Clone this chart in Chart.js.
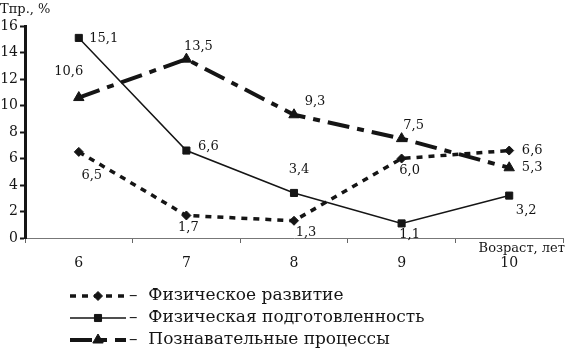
<!DOCTYPE html>
<html>
<head>
<meta charset="utf-8">
<script src="https://cdn.jsdelivr.net/npm/chart.js@4/dist/chart.umd.min.js"></script>
<style>
  html, body { margin: 0; padding: 0; background: #fff; }
  canvas { display: block; }
</style>
</head>
<body>
<canvas id="chart" width="570" height="358"></canvas>
<script>
// --- DATA ---
const ages = ['6', '7', '8', '9', '10'];
const physDev = [6.5, 1.7, 1.3, 6.0, 6.6];
const physFit = [15.1, 6.6, 3.4, 1.1, 3.2];
const cognitive = [10.6, 13.5, 9.3, 7.5, 5.3];
const seriesNames = ['Физическое развитие', 'Физическая подготовленность', 'Познавательные процессы'];
const yTitle = 'Тпр., %';
const xTitle = 'Возраст, лет';

// --- STYLE ---
const INK = '#151515';
const SERIF = '"DejaVu Serif", "Liberation Serif", serif';

// label offsets (px) relative to each point, per series
const labelShift = [
    [[13, 24], [2, 12], [12, 12], [8, 12], [23, 0]],
    [[25, 1], [22, -4], [5, -23], [8, 11], [17, 15]],
    [[-10, -26], [12, -13], [21, -13], [12, -13], [23, 0]],
];

const fmt = v => v.toFixed(1).replace('.', ',');

const valueLabels = {
    id: 'valueLabels',
    afterDatasetsDraw(chart) {
        const ctx = chart.ctx;
        ctx.save();
        ctx.font = '13px ' + SERIF;
        ctx.fillStyle = INK;
        ctx.textAlign = 'center';
        ctx.textBaseline = 'middle';
        chart.data.datasets.forEach((ds, i) => {
            chart.getDatasetMeta(i).data.forEach((pt, j) => {
                const [dx, dy] = labelShift[i][j];
                ctx.fillText(fmt(ds.data[j]), pt.x + dx, pt.y + dy);
            });
        });
        ctx.restore();
    }
};

const extras = {
    id: 'extras',
    afterDraw(chart) {
        const ctx = chart.ctx;
        const area = chart.chartArea;
        ctx.save();
        ctx.fillStyle = INK;
        ctx.font = '13px ' + SERIF;
        ctx.textBaseline = 'middle';
        ctx.textAlign = 'left';
        ctx.fillText(yTitle, 0, 10);
        ctx.textAlign = 'right';
        ctx.fillText(xTitle, area.right + 2, area.bottom + 11);

        // legend
        const x0 = 70, x1 = 126, rowY = [296, 318, 340];
        chart.data.datasets.forEach((ds, i) => {
            const y = rowY[i];
            ctx.strokeStyle = INK;
            ctx.lineWidth = ds.borderWidth;
            ctx.setLineDash(ds.borderDash || []);
            ctx.beginPath();
            ctx.moveTo(x0, y);
            ctx.lineTo(x1, y);
            ctx.stroke();
            ctx.setLineDash([]);
            ctx.lineWidth = 1;
            Chart.helpers.drawPoint(ctx, {
                pointStyle: ds.pointStyle,
                radius: ds.pointRadius,
                rotation: 0,
                borderWidth: 1
            }, (x0 + x1) / 2, y);
            ctx.font = '17px ' + SERIF;
            ctx.textAlign = 'left';
            ctx.fillText('–  ' + seriesNames[i], 129, y);
        });
        ctx.restore();
    }
};

new Chart(document.getElementById('chart'), {
    type: 'line',
    data: {
        labels: ages,
        datasets: [
            {
                label: seriesNames[0],
                data: physDev,
                borderColor: INK,
                backgroundColor: INK,
                borderWidth: 3.5,
                borderDash: [6, 6],
                pointStyle: 'rectRot',
                pointRadius: 4.5,
                pointBorderWidth: 1,
                tension: 0
            },
            {
                label: seriesNames[1],
                data: physFit,
                borderColor: INK,
                backgroundColor: INK,
                borderWidth: 1.5,
                pointStyle: 'rect',
                pointRadius: 5,
                pointBorderWidth: 1,
                tension: 0
            },
            {
                label: seriesNames[2],
                data: cognitive,
                borderColor: INK,
                backgroundColor: INK,
                borderWidth: 4,
                borderDash: [22, 8, 7, 8],
                pointStyle: 'triangle',
                pointRadius: 6,
                pointBorderWidth: 1,
                tension: 0
            }
        ]
    },
    options: {
        responsive: false,
        animation: false,
        layout: { padding: { top: 26, right: 0, left: 0, bottom: 0 } },
        plugins: {
            legend: { display: false },
            tooltip: { enabled: false }
        },
        scales: {
            x: {
                offset: true,
                afterFit: s => { s.height = 120; s.paddingLeft = 0; s.paddingRight = 0; },
                grid: { offset: true, drawOnChartArea: false, tickLength: 5, color: '#666' },
                border: { color: '#777', width: 1 },
                ticks: { color: INK, font: { family: SERIF, size: 14 }, padding: 12 }
            },
            y: {
                min: 0,
                max: 16,
                afterFit: s => { s.width = 25; },
                grid: { drawOnChartArea: false, tickLength: 5, tickWidth: 2, color: INK },
                border: { color: INK, width: 3 },
                ticks: { stepSize: 2, color: INK, font: { family: SERIF, size: 14 }, padding: 2 }
            }
        }
    },
    plugins: [valueLabels, extras]
});
</script>
</body>
</html>
